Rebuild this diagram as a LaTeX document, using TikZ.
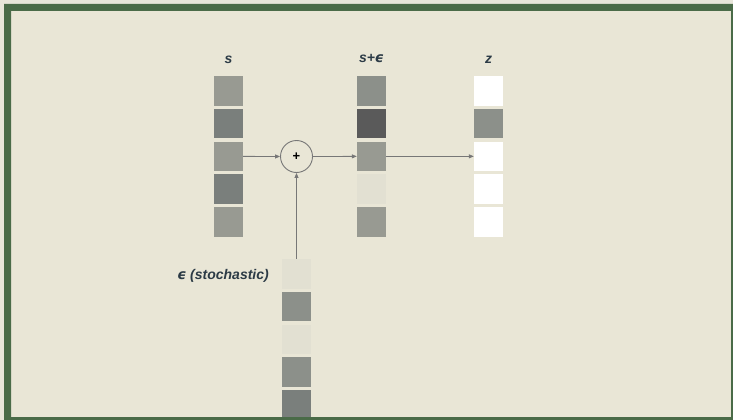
\documentclass[tikz,border=0pt]{standalone}
\usepackage{fontspec}
\setmainfont{Liberation Sans}
\newfontfamily\dvfont{DejaVu Sans}
\usetikzlibrary{arrows.meta}
\definecolor{bgout}{HTML}{E8E6DA}
\definecolor{bgin}{HTML}{E9E6D6}
\definecolor{frame}{HTML}{4A6B48}
\definecolor{txt}{HTML}{2C3B46}
\definecolor{cA}{HTML}{989A92}
\definecolor{cB}{HTML}{7A7F7C}
\definecolor{cC}{HTML}{8C908A}
\definecolor{cD}{HTML}{5A5A5A}
\definecolor{cE}{HTML}{E2E0D2}
\definecolor{cW}{HTML}{FFFFFF}
\definecolor{ln}{HTML}{777777}
\tikzset{
  cell/.style={rectangle, minimum width=29pt, minimum height=29.5pt, inner sep=0pt, draw=none, fill=#1},
  lbl/.style={text=txt, font=\fontsize{14}{16}\selectfont\bfseries\itshape, inner sep=0pt},
  conn/.style={draw=ln, line width=0.8pt, -{Triangle[length=5pt,width=4pt]}},
  plus/.style={circle, draw=ln, line width=0.9pt, minimum size=32pt, inner sep=0pt, fill=bgin}
}
\newcommand{\eps}{{\dvfont\bfseries\itshape ϵ}}
\begin{document}
\begin{tikzpicture}[x=1pt,y=-1pt]
\useasboundingbox (0,0) rectangle (733,420);
\fill[bgout] (0,0) rectangle (733,420);
\fill[bgin] (11,11) rectangle (731,417);
% s column
\node[cell=cA] (s1) at (228.5,90.75) {};
\node[cell=cB] (s2) at (228.5,123.55) {};
\node[cell=cA] (s3) at (228.5,156.35) {};
\node[cell=cB] (s4) at (228.5,189.15) {};
\node[cell=cA] (s5) at (228.5,221.95) {};
% s+eps column
\node[cell=cC] (p1) at (371.5,90.75) {};
\node[cell=cD] (p2) at (371.5,123.55) {};
\node[cell=cA] (p3) at (371.5,156.35) {};
\node[cell=cE] (p4) at (371.5,189.15) {};
\node[cell=cA] (p5) at (371.5,221.95) {};
% z column
\node[cell=cW] (z1) at (488.5,90.75) {};
\node[cell=cC] (z2) at (488.5,123.55) {};
\node[cell=cW] (z3) at (488.5,156.35) {};
\node[cell=cW] (z4) at (488.5,189.15) {};
\node[cell=cW] (z5) at (488.5,221.95) {};
% eps column
\node[cell=cE] (e1) at (296.5,273.75) {};
\node[cell=cC] (e2) at (296.5,306.5) {};
\node[cell=cE] (e3) at (296.5,339.25) {};
\node[cell=cC] (e4) at (296.5,372) {};
\node[cell=cB] (e5) at (296.5,404.75) {};
% plus
\node[plus] (add) at (296.5,156.5) {\fontsize{13}{14}\selectfont\textbf{+}};
% connectors
\draw[conn] (s3.east) -- (add.west);
\draw[conn] (add.east) -- (p3.west);
\draw[conn] (p3.east) -- (z3.west);
\draw[conn] (e1.north) -- (add.south);
% labels
\node[lbl] (ls) at (228.5,59.5) {s};
\node[lbl] (lp) at (371.5,58) {s+\eps};
\node[lbl] (lz) at (488.5,59.5) {z};
\node[lbl, anchor=east] (le) at (269,276) {\eps\ (stochastic)};
% frame
\fill[frame, even odd rule] (4,4) rectangle (737,424) (11,11) rectangle (731,417);
\end{tikzpicture}
\end{document}
